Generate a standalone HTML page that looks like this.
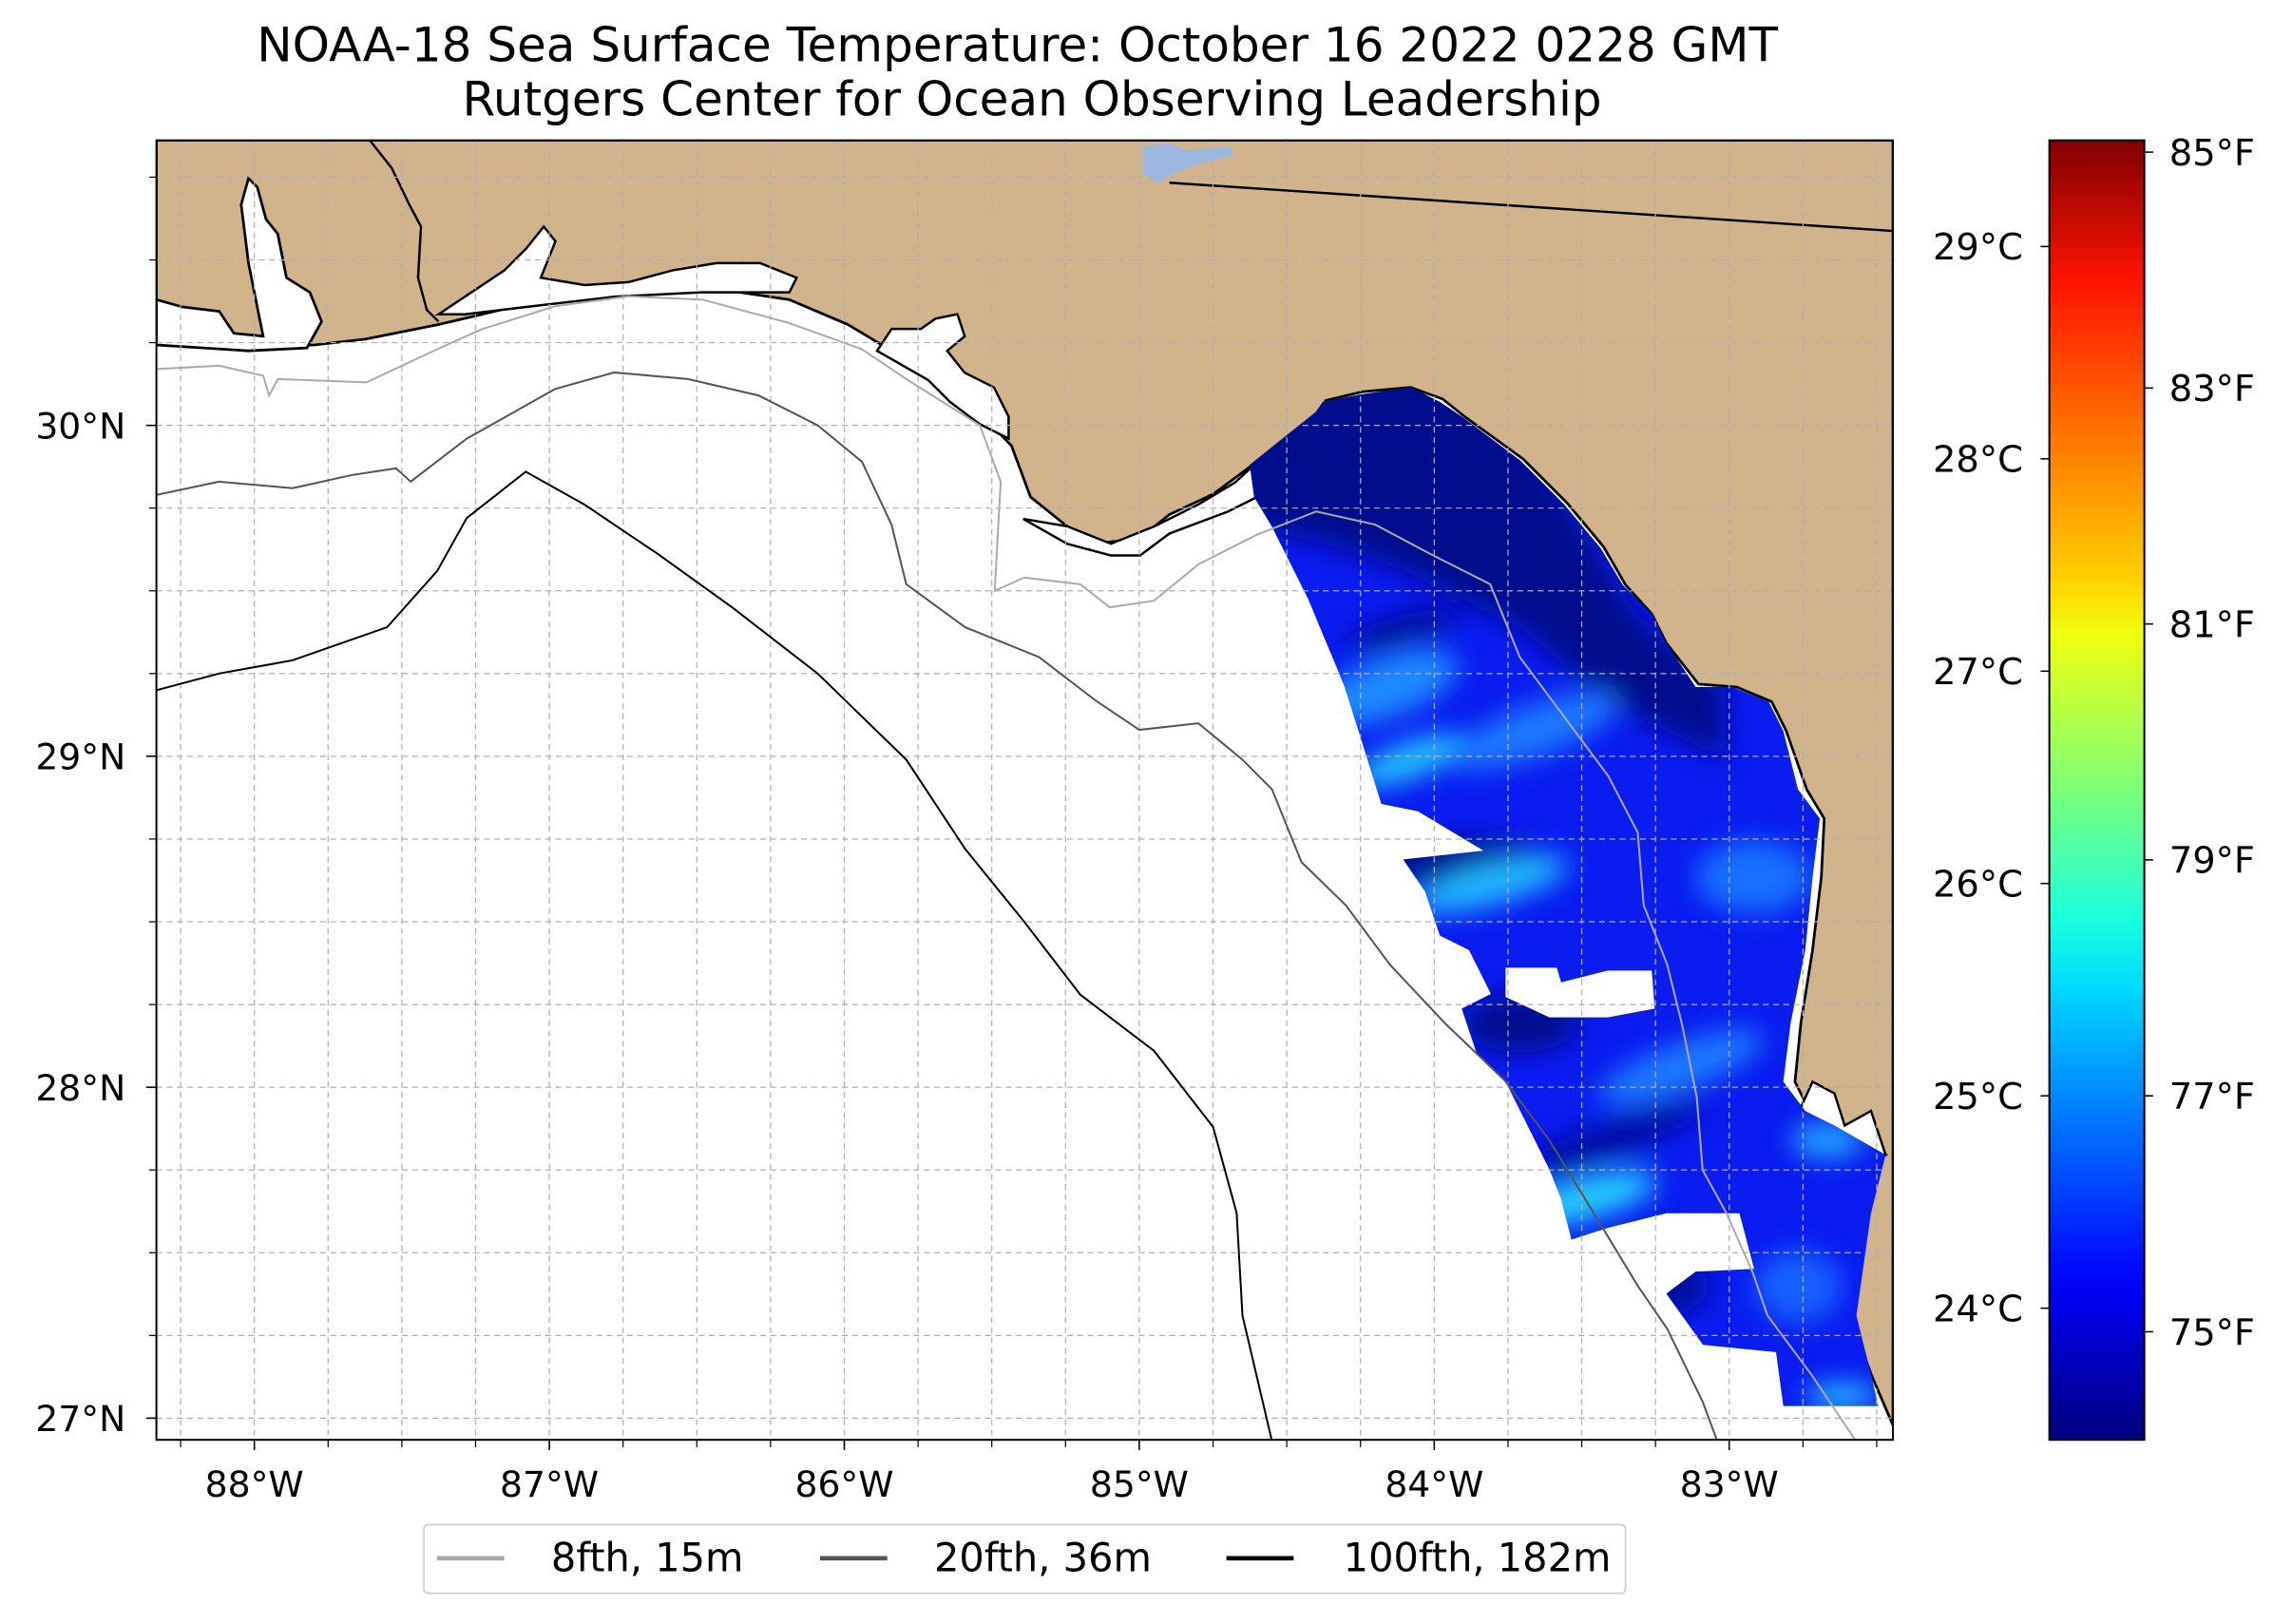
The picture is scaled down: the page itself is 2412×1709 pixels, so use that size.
<!DOCTYPE html>
<html><head><meta charset="utf-8">
<style>
html,body{margin:0;padding:0;background:#fff;}
svg{display:block;font-family:"DejaVu Sans","Liberation Sans",sans-serif;}
</style></head>
<body>
<svg id="chart" xmlns="http://www.w3.org/2000/svg" width="2412" height="1709" viewBox="0 0 1568 1111" preserveAspectRatio="none">
<defs>
  <clipPath id="axclip"><rect x="107" y="96" width="1188" height="889"/></clipPath>
  <linearGradient id="jet" x1="0" y1="1" x2="0" y2="0">
    <stop offset="0" stop-color="#00007f"/>
    <stop offset="0.11" stop-color="#0000f0"/>
    <stop offset="0.14" stop-color="#0010ff"/>
    <stop offset="0.35" stop-color="#00dcff"/>
    <stop offset="0.4" stop-color="#1affe0"/>
    <stop offset="0.5" stop-color="#7cff79"/>
    <stop offset="0.62" stop-color="#f0ff0f"/>
    <stop offset="0.66" stop-color="#ffd200"/>
    <stop offset="0.89" stop-color="#ff1400"/>
    <stop offset="1" stop-color="#800000"/>
  </linearGradient>
  <filter id="blur" x="-50%" y="-50%" width="200%" height="200%"><feGaussianBlur stdDeviation="9"/></filter>
  <clipPath id="sstclip"><path id="sstpath" d="M855,318 L880,298 L900,282 L905,275 L930,270 L965,265 L985,275 L1000,285 L1040,315 L1070,345 L1095,375 L1110,400 L1130,420 L1140,440 L1160,470 L1185,470 L1210,480 L1220,500 L1230,540 L1245,560 L1240,600 L1235,650 L1225,700 L1220,740 L1235,760 L1255,770 L1290,790 L1280,830 L1270,900 L1280,940 L1285,962 L1220,962 L1215,925 L1165,920 L1140,885 L1160,870 L1200,868 L1190,830 L1140,830 L1100,840 L1075,848 L1068,820 L1060,800 L1045,770 L1030,740 L1010,720 L1000,690 L1020,680 L1005,650 L985,640 L975,610 L960,588 L1015,582 L970,555 L945,550 L920,470 L895,410 L870,360 L858,340 Z"/></clipPath>
</defs>

<text x="696" y="42" font-size="32.5" text-anchor="middle">NOAA-18 Sea Surface Temperature: October 16 2022 0228 GMT</text>
<text x="706" y="79" font-size="32.5" text-anchor="middle">Rutgers Center for Ocean Observing Leadership</text>

<g clip-path="url(#axclip)">
  <rect x="107" y="96" width="1188" height="889" fill="#fff"/>
  <path fill="#d2b48c" stroke="#000" stroke-width="1.8"
    d="M107,96 L1295,96 L1295,975 L1280,940 L1262,890 L1250,850 L1252,810 L1290,790 L1255,770 L1238,760 L1228,740 L1232,700 L1240,650 L1246,600 L1248,560 L1236,540 L1222,500 L1212,480 L1188,470 L1162,468 L1140,440 L1130,420 L1112,400 L1097,374 L1072,344 L1042,314 L1002,285 L987,273 L965,265 L932,268 L907,274 L902,283 L882,298 L857,318 L830,338 L800,352 L780,368 L750,372 L730,360 L705,340 L692,305 L670,282 L640,262 L610,240 L580,222 L540,205 L480,196 L430,196 L380,203 L330,215 L300,222 L250,232 L215,236 L170,238 L120,236 L107,234 Z"/>
  <path fill="#fff" stroke="#000" stroke-width="1.8" d="M107,205 L125,210 L150,213 L160,228 L180,230 L170,180 L165,140 L170,122 L176,128 L182,150 L190,160 L196,190 L212,200 L220,220 L210,238 L170,240 L107,236 Z"/>
  <path fill="none" stroke="#000" stroke-width="1.6" d="M253,96 L268,115 L280,140 L288,155 L286,190 L292,212 L300,220"/>
  <path fill="#fff" stroke="#000" stroke-width="1.6" d="M300,215 L330,195 L345,185 L360,170 L372,155 L380,165 L370,190 L400,195 L430,193 L460,185 L490,180 L520,180 L545,190 L540,200 L480,200 L420,203 L360,210 L318,215 Z"/>
  <path fill="#fff" stroke="#000" stroke-width="1.6" d="M600,240 L610,225 L630,225 L640,218 L655,215 L660,230 L648,240 L660,255 L680,265 L690,285 L690,300 L670,290 L650,275 L635,260 Z"/>
  <path fill="#fff" stroke="#000" stroke-width="1.6" d="M700,355 L730,360 L760,372 L790,360 L820,345 L845,330 L858,318 L880,300 L880,315 L860,340 L840,350 L800,365 L780,380 L760,380 L730,372 Z"/>
  <path fill="#fff" stroke="#000" stroke-width="1.6" d="M1230,762 L1240,740 L1255,748 L1262,770 L1280,760 L1290,790 L1275,800 L1260,815 L1250,830 L1240,815 L1245,795 L1235,780 Z"/>
  <path fill="#9db8e0" d="M782,100 L800,98 L812,103 L840,100 L845,106 L820,112 L800,120 L792,126 L782,118 Z"/>
  <path fill="none" stroke="#000" stroke-width="1.6" d="M800,125 L1295,158"/>

  <g clip-path="url(#sstclip)">
    <rect x="840" y="250" width="460" height="720" fill="#0a1cf0"/>
    <g filter="url(#blur)">
      <path fill="#000a8c" d="M840,250 L1000,250 L1060,320 L1120,420 L1180,470 L1180,520 L1100,480 L1040,430 L960,390 L900,370 L840,360 Z"/>
      <ellipse cx="960" cy="430" rx="40" ry="9" fill="#000a8c" transform="rotate(-15 960 430)"/>
      <ellipse cx="1000" cy="590" rx="60" ry="16" fill="#000a8c"/>
      <ellipse cx="1110" cy="880" rx="60" ry="25" fill="#00109a"/>
      <ellipse cx="1040" cy="700" rx="40" ry="20" fill="#000a8c"/>
      <ellipse cx="1100" cy="780" rx="70" ry="12" fill="#0010a0" transform="rotate(-20 1100 780)"/>
      <ellipse cx="950" cy="470" rx="50" ry="20" fill="#1c8cff" transform="rotate(-20 950 470)"/>
      <ellipse cx="965" cy="520" rx="40" ry="12" fill="#20c8ff" transform="rotate(-20 965 520)"/>
      <ellipse cx="1020" cy="605" rx="55" ry="14" fill="#22b8ff" transform="rotate(-15 1020 605)"/>
      <ellipse cx="1085" cy="820" rx="50" ry="14" fill="#26d2ff" transform="rotate(-15 1085 820)"/>
      <ellipse cx="1150" cy="730" rx="60" ry="16" fill="#1a7cff" transform="rotate(-20 1150 730)"/>
      <ellipse cx="1200" cy="600" rx="40" ry="25" fill="#1870ff"/>
      <ellipse cx="1050" cy="500" rx="60" ry="18" fill="#1a78ff" transform="rotate(-20 1050 500)"/>
      <ellipse cx="1250" cy="780" rx="25" ry="12" fill="#20a8ff"/>
      <ellipse cx="1230" cy="880" rx="30" ry="25" fill="#1460ff"/>
      <ellipse cx="1260" cy="955" rx="25" ry="8" fill="#26d2ff"/>
    </g>
    <path fill="#fff" d="M1030,662 L1065,662 L1068,672 L1100,664 L1130,664 L1132,690 L1100,696 L1060,696 L1030,682 Z"/>
  </g>

  <g id="grid" stroke="#b0b0b0" stroke-width="0.8" stroke-dasharray="4,3"></g>
  <g id="contours" fill="none"></g>
</g>
<rect x="107" y="96" width="1188" height="889" fill="none" stroke="#000" stroke-width="1.3"/>
<g id="axes" font-size="24.5"></g>

<g>
  <rect x="290" y="1043" width="822" height="47" rx="3" fill="#fff" stroke="#d0d0d0" stroke-width="1.2"/>
  <g><line x1="299" y1="1066" x2="345" y2="1066" stroke="#aaa" stroke-width="3"/><text x="377" y="1075" font-size="27">8fth, 15m</text></g>
  <g><line x1="561" y1="1066" x2="607" y2="1066" stroke="#555" stroke-width="3"/><text x="639" y="1075" font-size="27">20fth, 36m</text></g>
  <g><line x1="839" y1="1066" x2="885" y2="1066" stroke="#000" stroke-width="3"/><text x="919" y="1075" font-size="27">100fth, 182m</text></g>
</g>

<g>
  <rect x="1402" y="96" width="65" height="889" fill="url(#jet)" stroke="#000" stroke-width="1.3"/>
  <g id="cbticks" font-size="25"></g>
</g>

<script>
// ---- data ----
const lonTicks = [-88, -87, -86, -85, -84, -83];
const latTicks = [27, 28, 29, 30];
const celsiusTicks = [24, 25, 26, 27, 28, 29];
const fahrenheitTicks = [75, 77, 79, 81, 83, 85];
const isoLabels = ['8fth', '20fth', '100fth'];
const isoColors = ['#aaaaaa', '#555555', '#000000'];
const iso8Lon = [-88.33,-88.12,-87.97,-87.95,-87.92,-87.62,-87.38,-87.23,-86.98,-86.73,-86.48,-86.19,-85.94,-85.79,-85.54,-85.47,-85.49,-85.39,-85.20,-85.10,-84.95,-84.80,-84.60,-84.40,-84.20,-84.01,-83.81,-83.71,-83.56,-83.41,-83.31,-83.29,-83.21,-83.16,-83.11,-83.09,-83.01,-82.92,-82.87,-82.72,-82.57];
const iso8Lat = [30.17,30.18,30.15,30.09,30.14,30.13,30.23,30.29,30.36,30.39,30.38,30.31,30.23,30.14,30.00,29.83,29.50,29.54,29.52,29.45,29.47,29.58,29.67,29.74,29.70,29.61,29.52,29.30,29.12,28.94,28.77,28.55,28.37,28.19,27.97,27.75,27.62,27.44,27.31,27.13,26.93];
const iso20Lon = [-88.33,-88.12,-87.87,-87.67,-87.52,-87.47,-87.28,-86.98,-86.78,-86.53,-86.29,-86.09,-85.94,-85.84,-85.79,-85.59,-85.34,-85.15,-85.00,-84.80,-84.65,-84.55,-84.45,-84.30,-84.15,-83.96,-83.76,-83.61,-83.46,-83.31,-83.21,-83.09,-83.04];
const iso20Lat = [29.79,29.83,29.81,29.85,29.87,29.83,29.96,30.11,30.16,30.14,30.09,30.00,29.89,29.70,29.52,29.39,29.30,29.17,29.08,29.10,28.99,28.90,28.68,28.55,28.37,28.19,28.02,27.84,27.62,27.40,27.27,27.05,26.93];
const iso100Lon = [-88.33,-88.12,-87.87,-87.55,-87.38,-87.28,-87.08,-86.88,-86.63,-86.38,-86.09,-85.79,-85.59,-85.39,-85.20,-84.95,-84.75,-84.67,-84.65,-84.55];
const iso100Lat = [29.20,29.25,29.29,29.39,29.56,29.72,29.86,29.76,29.61,29.45,29.25,28.99,28.72,28.50,28.28,28.11,27.88,27.62,27.31,26.93];

// ---- axis functions ----
const X = lon => 174 + (lon + 88) * 201.8;
const Y = lat => 291 + (30 - lat) * 226.4;
const CB_TOP = 96, CB_BOT = 985, C_MIN = 23.38, C_MAX = 29.5;
const CY = c => CB_BOT - (c - C_MIN) / (C_MAX - C_MIN) * (CB_BOT - CB_TOP);
const FY = f => CY((f - 32) / 1.8);
const NS = 'http://www.w3.org/2000/svg';
function mk(tag, attrs, parent) {
  const e = document.createElementNS(NS, tag);
  for (const k in attrs) e.setAttribute(k, attrs[k]);
  parent.appendChild(e);
  return e;
}
const grid = document.getElementById('grid');
const axes = document.getElementById('axes');
for (let lon = -88.25; lon <= -82.4; lon += 0.25) {
  const x = X(lon);
  const g = mk('line', {x1: x, y1: 96, x2: x, y2: 985}, grid);
  
  
  const t = mk('line', {x1: x, y1: 985, x2: x, y2: 990, stroke: '#000', 'stroke-width': 0.8}, axes);
  
  
}
for (let lat = 26.75; lat <= 30.9; lat += 0.25) {
  const y = Y(lat);
  if (y < 96 || y > 985) continue;
  const g = mk('line', {x1: 107, y1: y, x2: 1295, y2: y}, grid);
  
  
  const t = mk('line', {x1: 102, y1: y, x2: 107, y2: y, stroke: '#000', 'stroke-width': 0.8}, axes);
  
  
}
lonTicks.forEach(lon => {
  const x = X(lon);
  const t = mk('line', {x1: x, y1: 985, x2: x, y2: 992, stroke: '#000', 'stroke-width': 1}, axes);
  
  
  const l = mk('text', {x: x, y: 1024, 'text-anchor': 'middle'}, axes);
  l.textContent = Math.abs(lon) + '°W';
  
  
});
latTicks.forEach(lat => {
  const y = Y(lat);
  const t = mk('line', {x1: 100, y1: y, x2: 107, y2: y, stroke: '#000', 'stroke-width': 1}, axes);
  
  
  const l = mk('text', {x: 86, y: y + 9, 'text-anchor': 'end'}, axes);
  l.textContent = lat + '°N';
  
  
});
const cont = document.getElementById('contours');
[[iso8Lon, iso8Lat], [iso20Lon, iso20Lat], [iso100Lon, iso100Lat]].forEach((s, i) => {
  const pts = s[0].map((lon, j) => X(lon).toFixed(1) + ',' + Y(s[1][j]).toFixed(1)).join(' ');
  const p = mk('polyline', {points: pts, stroke: isoColors[i], 'stroke-width': 1.3}, cont);
  
  
});
const cb = document.getElementById('cbticks');
celsiusTicks.forEach(c => {
  const y = CY(c);
  const t = mk('line', {x1: 1396, y1: y, x2: 1402, y2: y, stroke: '#000', 'stroke-width': 1}, cb);
  
  
  const l = mk('text', {x: 1384, y: y + 9, 'text-anchor': 'end'}, cb);
  l.textContent = c + '°C';
  
  
});
fahrenheitTicks.forEach(f => {
  const y = FY(f);
  const t = mk('line', {x1: 1467, y1: y, x2: 1473, y2: y, stroke: '#000', 'stroke-width': 1}, cb);
  
  
  const l = mk('text', {x: 1484, y: y + 9}, cb);
  l.textContent = f + '°F';
  
  
});
</script>
</svg>
</body></html>
